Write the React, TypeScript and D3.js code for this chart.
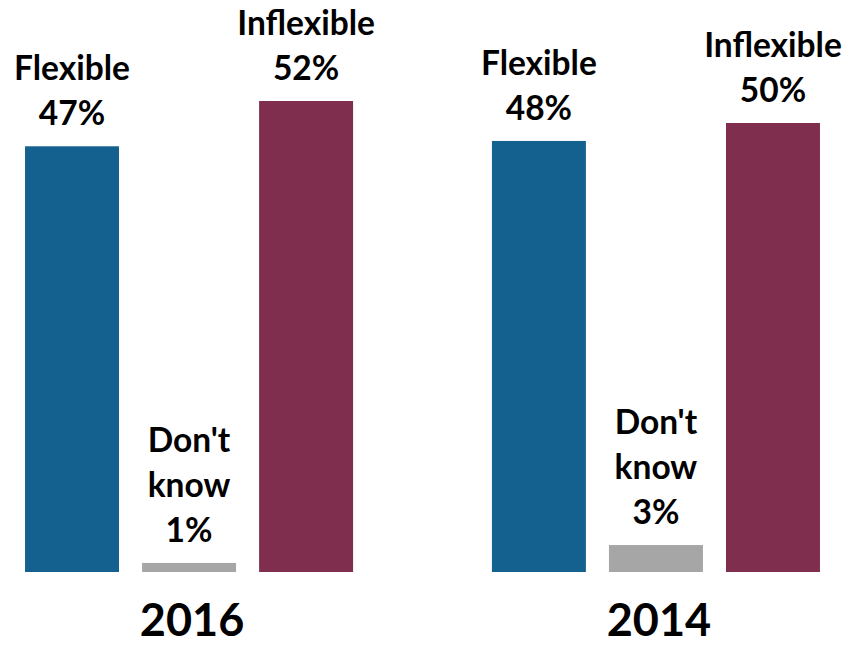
import React from "react";
import * as d3 from "d3";

const years = ["2016", "2014"];
const categories = ["Flexible", "Don't know", "Inflexible"];
const labelLines = [["Flexible"], ["Don't", "know"], ["Inflexible"]];
const values2016 = [47, 1, 52];
const values2014 = [48, 3, 50];
const seriesByYear = [values2016, values2014];
const colors = ["#14608F", "#A6A6A6", "#7F2F4D"];

const W = 844;
const H = 646;

export default function App() {
  const outer = d3.scaleBand<string>().domain(years).range([13.5, 831.5]).paddingInner(0.248).paddingOuter(0);
  const inner = d3
    .scaleBand<string>()
    .domain(categories)
    .range([0, outer.bandwidth()])
    .paddingInner(0.197)
    .paddingOuter(0.0985);
  // each year is its own panel, with its own value scale
  const yScales = [
    d3.scaleLinear().domain([0, 52]).range([572, 101]),
    d3.scaleLinear().domain([0, 50]).range([572, 123]),
  ];
  const font = "Lato, 'Open Sans', sans-serif";
  const lineH = 45;

  return (
    <svg width={W} height={H} style={{ position: "absolute", left: 0, top: 0, background: "#fff" }}>
      {years.map((yr, gi) => {
        const gx = outer(yr)!;
        const vals = seriesByYear[gi];
        const y = yScales[gi];
        return (
          <g key={yr}>
            {categories.map((c, i) => {
              const x = gx + inner(c)!;
              const bw = inner.bandwidth();
              const top = y(vals[i]);
              const lines = [...labelLines[i], `${vals[i]}%`];
              const cx = x + bw / 2;
              const lastBase = top - 21;
              return (
                <g key={c}>
                  <rect x={x} y={top} width={bw} height={y(0) - top} fill={colors[i]} />
                  {lines.map((t, li) => (
                    <text
                      key={li}
                      x={cx}
                      y={lastBase - (lines.length - 1 - li) * lineH}
                      textAnchor="middle"
                      fontFamily={font}
                      fontWeight={700}
                      fontSize={33.5}
                      fill="#000"
                    >
                      {t}
                    </text>
                  ))}
                </g>
              );
            })}
            <text
              x={gx + outer.bandwidth() / 2 + 3}
              y={636}
              textAnchor="middle"
              fontFamily={font}
              fontWeight={700}
              fontSize={45}
              fill="#000"
            >
              {yr}
            </text>
          </g>
        );
      })}
    </svg>
  );
}
